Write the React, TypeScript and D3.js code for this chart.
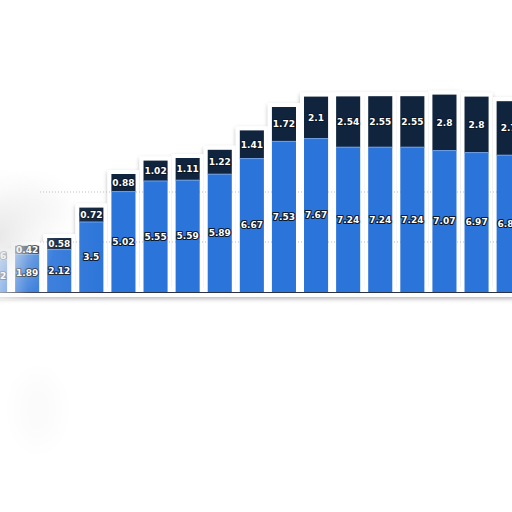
import React, { useEffect } from "react";
import * as d3 from "d3";

const categories = ["c1","c2","c3","c4","c5","c6","c7","c8","c9","c10","c11","c12","c13","c14","c15","c16","c17"];
const seriesLower = [1.62, 1.89, 2.12, 3.5, 5.02, 5.55, 5.59, 5.89, 6.67, 7.53, 7.67, 7.24, 7.24, 7.24, 7.07, 6.97, 6.84];
const seriesUpper = [0.36, 0.42, 0.58, 0.72, 0.88, 1.02, 1.11, 1.22, 1.41, 1.72, 2.1, 2.54, 2.55, 2.55, 2.8, 2.8, 2.7];
const gridValues = [2.5, 5];

const W = 512, H = 512;
const BLUE = "#2b74d9";
const DARK = "#10243e";

const labelStyle: React.CSSProperties = {
  fontFamily: "DejaVu Sans", fontWeight: 700, fontSize: 9, fill: "#fff",
  stroke: "#0b1829", strokeWidth: 2.2, paintOrder: "stroke", strokeLinejoin: "round",
};

export default function App() {
  useEffect(() => { document.body.style.margin = "0"; }, []);
  const x = d3.scaleBand<string>().domain(categories).range([-21, -21 + 32.1 * 17]).paddingInner(0.25).paddingOuter(0.125);
  const y = d3.scaleLinear().domain([0, 10]).range([292, 92]);
  const bw = x.bandwidth();
  const fmt = (v: number) => d3.format("~g")(v);

  const bars = (withLabels: boolean) =>
    categories.map((c, i) => {
      const x0 = x(c)!;
      const lo = seriesLower[i], hi = seriesUpper[i];
      const yLo = y(lo), yTop = y(lo + hi);
      return (
        <g key={c}>
          <rect x={x0} y={yLo} width={bw} height={y(0) - yLo} fill={BLUE} />
          <rect x={x0} y={yTop} width={bw} height={yLo - yTop} fill={DARK} />
          {withLabels && <line x1={x0} x2={x0 + bw} y1={yLo} y2={yLo} stroke="#6ea2ea" strokeWidth={1} />}
          {withLabels && (
            <>
              <text x={x0 + bw / 2} y={(yLo + y(0)) / 2} dy="0.35em" textAnchor="middle" style={labelStyle}>
                {fmt(lo)}
              </text>
              <text x={x0 + bw / 2} y={(yTop + yLo) / 2} dy="0.35em" textAnchor="middle" style={labelStyle}>
                {fmt(hi)}
              </text>
            </>
          )}
        </g>
      );
    });

  return (
    <svg width={W} height={H} style={{ position: "fixed", left: 0, top: 0, background: "#fff" }}>
      <defs>
        <filter id="sticker" x="-5%" y="-20%" width="110%" height="140%">
          <feMorphology in="SourceAlpha" operator="dilate" radius="4" result="dil" />
          <feGaussianBlur in="dil" stdDeviation="2.2" result="blur" />
          <feOffset in="blur" dx="0" dy="1.5" result="off" />
          <feFlood floodColor="#000" floodOpacity="0.28" />
          <feComposite in2="off" operator="in" result="shadow" />
          <feFlood floodColor="#fff" />
          <feComposite in2="dil" operator="in" result="white" />
          <feMerge>
            <feMergeNode in="shadow" />
            <feMergeNode in="white" />
          </feMerge>
        </filter>
        <filter id="soft" x="-50%" y="-50%" width="200%" height="200%">
          <feGaussianBlur stdDeviation="12" />
        </filter>
        <radialGradient id="fadeR" cx={0} cy={235} r={70} gradientUnits="userSpaceOnUse" gradientTransform="translate(0,235) scale(0.8,1) translate(0,-235)">
          <stop offset="0" stopColor="#e6e6e6" stopOpacity={0.9} />
          <stop offset="0.35" stopColor="#e8e8e8" stopOpacity={0.55} />
          <stop offset="0.7" stopColor="#eee" stopOpacity={0.18} />
          <stop offset="1" stopColor="#f4f4f4" stopOpacity={0} />
        </radialGradient>
        <linearGradient id="fade" x1="0" x2="1" y1="0" y2="0">
          <stop offset="0" stopColor="#fff" stopOpacity={0.5} />
          <stop offset="0.25" stopColor="#fff" stopOpacity={0.12} />
          <stop offset="1" stopColor="#fff" stopOpacity={0} />
        </linearGradient>
      </defs>
      <ellipse cx={30} cy={210} rx={35} ry={25} fill="#000" opacity={0.04} filter="url(#soft)" />
      <ellipse cx={38} cy={410} rx={22} ry={38} fill="#000" opacity={0.015} filter="url(#soft)" />
      <g filter="url(#sticker)">
        {bars(false)}
        <rect x={0} y={291} width={W} height={2} fill="#333" />
      </g>
      {gridValues.map((v) => (
        <line key={v} x1={40} x2={W} y1={y(v)} y2={y(v)} stroke="#bbb" strokeWidth={1} strokeDasharray="1,2" />
      ))}
      {bars(true)}
      <line x1={0} x2={W} y1={292.5} y2={292.5} stroke="#2a3340" strokeWidth={1} />
      <rect x={0} y={140} width={110} height={160} fill="url(#fade)" />
      <rect x={0} y={160} width={80} height={145} fill="url(#fadeR)" />
    </svg>
  );
}
